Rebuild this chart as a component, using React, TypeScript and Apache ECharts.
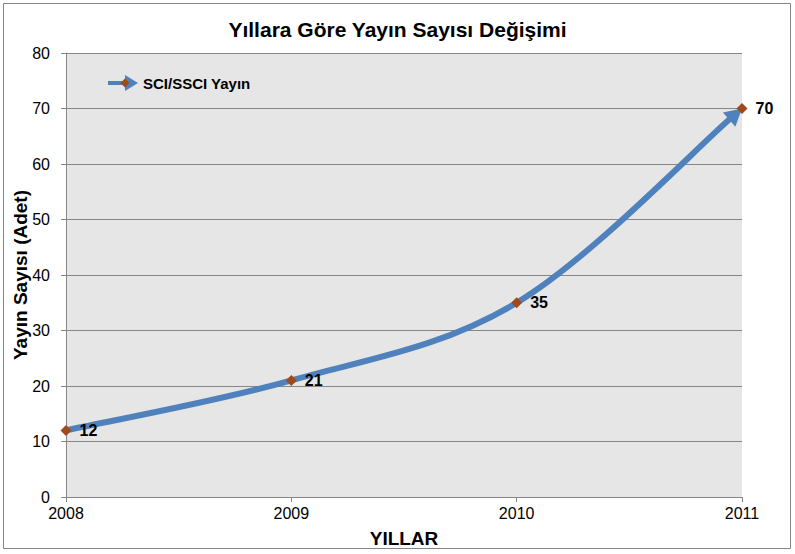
import React, { useEffect, useRef } from "react";
import * as echarts from "echarts";

const years = [2008, 2009, 2010, 2011];
const counts = [12, 21, 35, 70];
const seriesName = "SCI/SSCI Yayın";
const chartTitle = "Yıllara Göre Yayın Sayısı Değişimi";
const yName = "Yayın Sayısı (Adet)";
const xName = "YILLAR";

const FONT = "Arial, 'Liberation Sans', sans-serif";
const LINE_COLOR = "#4f81bd";
const MARKER_COLOR = "#a0491c";

export default function App() {
  const ref = useRef<HTMLDivElement>(null);
  useEffect(() => {
    document.body.style.margin = "0";
    const chart = echarts.init(ref.current!, null, { renderer: "svg" });
    const data = years.map((y, i) => [y, counts[i]]);

    const renderCurve = (params: any, api: any) => {
      if (params.dataIndex !== 0) return null;
      const pts: number[][] = data.map((d) => api.coord(d));
      const n = pts.length;
      const children: any[] = [];
      const L = 17;
      const W = 9.5;
      let arrow: any = null;
      for (let k = 0; k < n - 1; k++) {
        const p0 = pts[k - 1] || pts[k];
        const p1 = pts[k];
        const p2 = pts[k + 1];
        const p3 = pts[k + 2] || pts[k + 1];
        let c1 = [p1[0] + (p2[0] - p0[0]) / 6, p1[1] + (p2[1] - p0[1]) / 6];
        let c2 = [p2[0] - (p3[0] - p1[0]) / 6, p2[1] - (p3[1] - p1[1]) / 6];
        let end = [p2[0], p2[1]];
        if (k === n - 2) {
          const dx = p2[0] - c2[0];
          const dy = p2[1] - c2[1];
          const len = Math.sqrt(dx * dx + dy * dy) || 1;
          const ux = dx / len;
          const uy = dy / len;
          const back = L * 0.75;
          end = [p2[0] - ux * back, p2[1] - uy * back];
          c2 = [c2[0] - ux * back, c2[1] - uy * back];
          const bx = p2[0] - ux * L;
          const by = p2[1] - uy * L;
          const px = -uy;
          const py = ux;
          arrow = {
            type: "polygon",
            shape: {
              points: [
                [p2[0], p2[1]],
                [bx + px * W, by + py * W],
                [bx - px * W, by - py * W],
              ],
            },
            style: { fill: LINE_COLOR },
          };
        }
        children.push({
          type: "bezierCurve",
          shape: {
            x1: p1[0],
            y1: p1[1],
            cpx1: c1[0],
            cpy1: c1[1],
            cpx2: c2[0],
            cpy2: c2[1],
            x2: end[0],
            y2: end[1],
          },
          style: { stroke: LINE_COLOR, lineWidth: 6, fill: "none", lineCap: "butt" },
        });
      }
      if (arrow) children.push(arrow);
      return { type: "group", children };
    };

    chart.setOption({
      animation: false,
      backgroundColor: "#ffffff",
      textStyle: { fontFamily: FONT },
      title: {
        text: chartTitle,
        left: "center",
        top: 14,
        textStyle: { fontFamily: FONT, fontSize: 21, fontWeight: "bold", color: "#000" },
      },
      legend: {
        left: 108,
        top: 75,
        padding: 0,
        itemWidth: 30,
        itemHeight: 16,
        itemGap: 4,
        icon: "path://M0,6 L17,6 L17,0 L30,8 L17,16 L17,10 L0,10 Z",
        textStyle: { fontFamily: FONT, fontSize: 15, fontWeight: "bold", color: "#000" },
        data: [{ name: seriesName, itemStyle: { color: LINE_COLOR } }],
      },
      grid: { left: 66, right: 53, top: 53, bottom: 57, outerBoundsMode: "none", containLabel: false },
      xAxis: {
        type: "value",
        min: 2008,
        max: 2011,
        interval: 1,
        name: xName,
        nameLocation: "middle",
        nameGap: 32,
        nameMoveOverlap: false,
        nameTextStyle: { fontFamily: FONT, fontSize: 19, fontWeight: "bold", color: "#000" },
        axisLine: { show: true, lineStyle: { color: "#868686" } },
        axisTick: { show: true, length: 5, lineStyle: { color: "#868686" } },
        axisLabel: {
          fontFamily: FONT,
          fontSize: 16,
          color: "#000",
          margin: 8,
          formatter: (v: number) => String(v),
        },
        splitLine: { show: false },
      },
      yAxis: {
        type: "value",
        min: 0,
        max: 80,
        interval: 10,
        name: yName,
        nameLocation: "middle",
        nameGap: 36,
        nameMoveOverlap: false,
        nameTextStyle: { fontFamily: FONT, fontSize: 19, fontWeight: "bold", color: "#000" },
        axisLine: { show: true, lineStyle: { color: "#868686" } },
        axisTick: { show: true, length: 5, lineStyle: { color: "#868686" } },
        axisLabel: { fontFamily: FONT, fontSize: 16, color: "#000", margin: 16 },
        splitLine: { show: true, lineStyle: { color: "#868686", width: 1 } },
        splitArea: { show: false },
      },
      series: [
        {
          name: "curve",
          type: "custom",
          data,
          encode: { x: 0, y: 1 },
          renderItem: renderCurve,
          silent: true,
          clip: false,
          z: 2,
        },
        {
          name: seriesName,
          type: "line",
          data,
          lineStyle: { opacity: 0, width: 0 },
          itemStyle: { color: MARKER_COLOR },
          symbol: "diamond",
          symbolSize: 11,
          label: {
            show: true,
            position: "right",
            distance: 8,
            fontFamily: FONT,
            fontSize: 16,
            fontWeight: "bold",
            color: "#000",
          },
          z: 3,
        },
      ],
      graphic: [
        {
          type: "rect",
          shape: { x: 66, y: 53, width: 676, height: 444 },
          style: { fill: "#e6e6e6" },
          z: -10,
          silent: true,
        },
        {
          type: "polygon",
          shape: { points: [[125, 78.5], [129.5, 83], [125, 87.5], [120.5, 83]] },
          style: { fill: MARKER_COLOR },
          z: 100,
          silent: true,
        },
        {
          type: "rect",
          shape: { x: 3.5, y: 3.5, width: 787, height: 545 },
          style: { fill: "none", stroke: "#868686", lineWidth: 1 },
          silent: true,
        },
      ],
    });
    return () => chart.dispose();
  }, []);
  return (
    <div
      ref={ref}
      style={{ position: "absolute", left: 0, top: 0, width: 795, height: 554 }}
    />
  );
}
